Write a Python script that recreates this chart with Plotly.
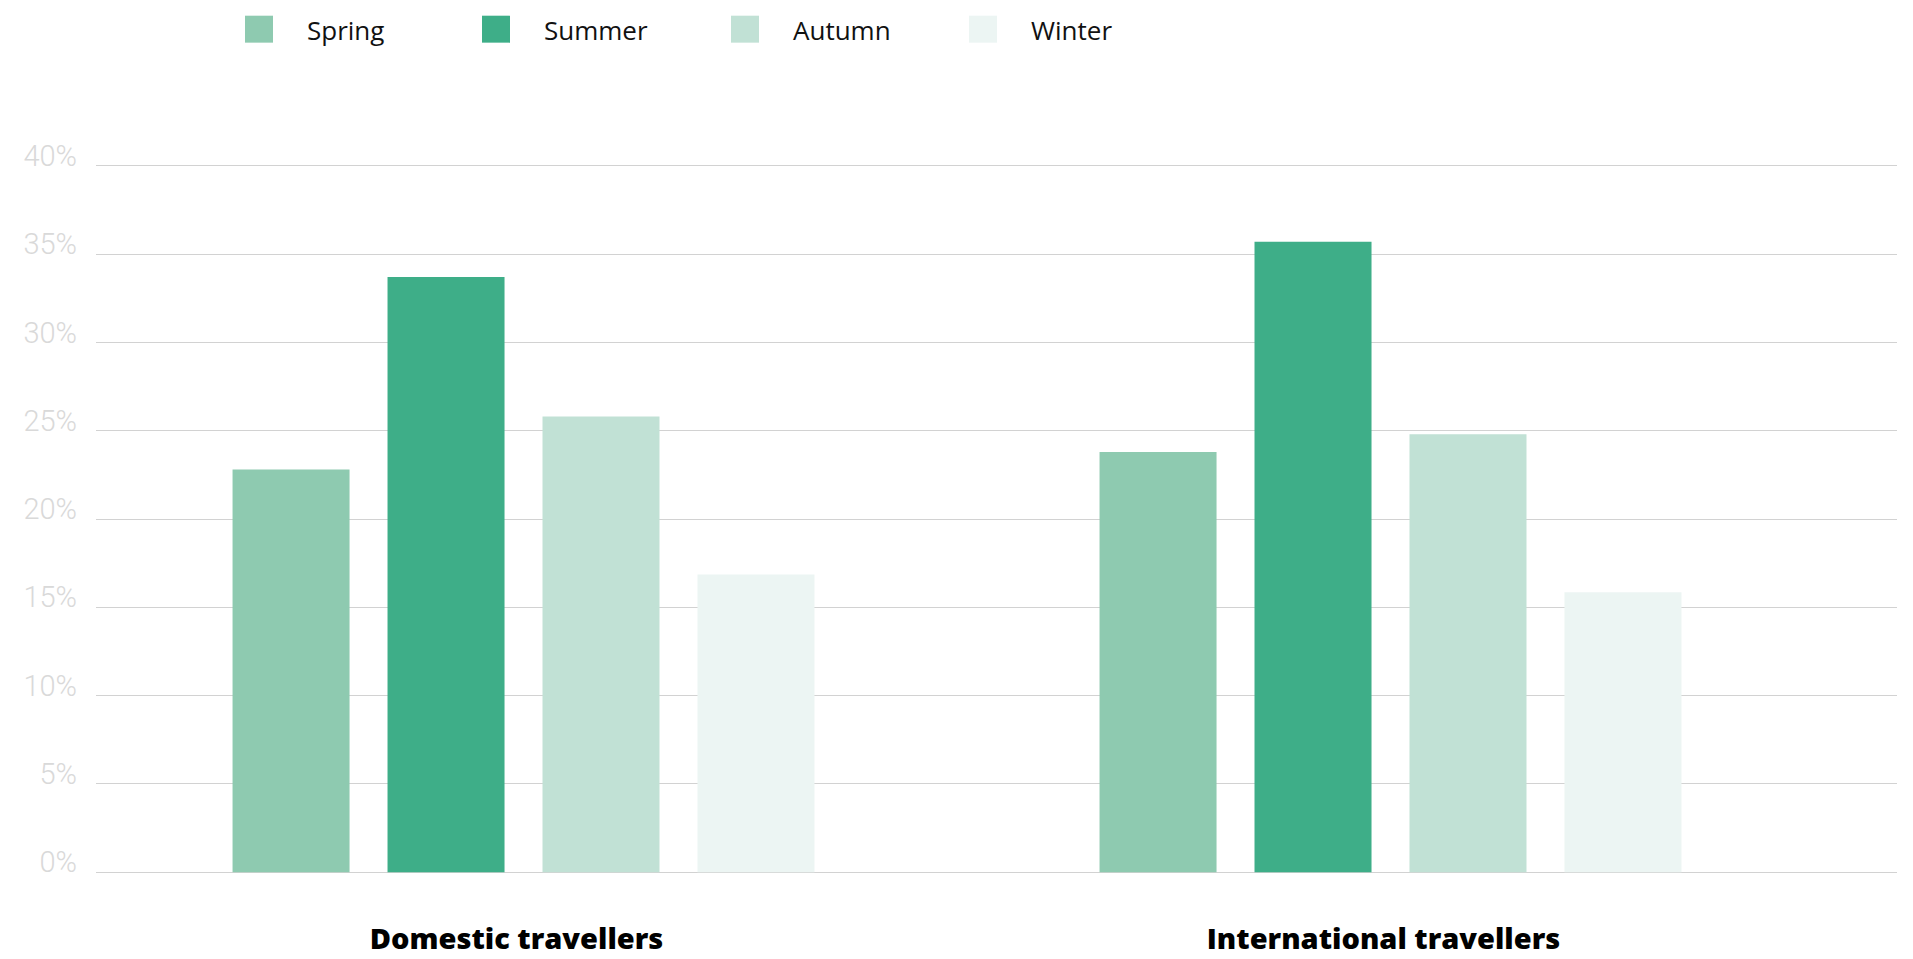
import plotly.graph_objects as go

# ---- data ----
categories = ["Domestic travellers", "International travellers"]
seasons = ["Spring", "Summer", "Autumn", "Winter"]
spring = [22.8, 23.8]
summer = [33.7, 35.7]
autumn = [25.8, 24.8]
winter = [16.85, 15.85]
y_ticks = [0, 5, 10, 15, 20, 25, 30, 35, 40]
y_tick_labels = ["0%", "5%", "10%", "15%", "20%", "25%", "30%", "35%", "40%"]

colors = ["#8ECAB0", "#3EAE88", "#C1E1D5", "#ECF5F3"]
series = [spring, summer, autumn, winter]

W, H = 1913, 959
ML, MR, MT, MB = 96, 16, 156.5, 77.5
PW = W - ML - MR
PH = H - MT - MB

def px_x(x):
    return (x - ML) / PW

def px_y(y):
    return (H - MB - y) / PH

xpos = list(range(len(categories)))

fig = go.Figure()
for name, vals, col in zip(seasons, series, colors):
    fig.add_trace(go.Bar(x=xpos, y=vals, name=name, marker=dict(color=col, line=dict(width=0)),
                         showlegend=False, hoverinfo="y+name"))

# custom legend (swatches + labels)
legend_left = [245, 482, 731, 969]
for name, col, lx in zip(seasons, colors, legend_left):
    fig.add_shape(type="rect", xref="paper", yref="paper",
                  x0=px_x(lx), x1=px_x(lx + 28), y0=px_y(42), y1=px_y(15),
                  fillcolor=col, line=dict(width=0), layer="above")
    fig.add_annotation(xref="paper", yref="paper", x=px_x(lx + 60), y=px_y(29),
                       text=name, showarrow=False, xanchor="left", yanchor="middle",
                       font=dict(family="Open Sans", size=26, color="#111111"))

fig.update_layout(
    width=W, height=H,
    margin=dict(l=ML, r=MR, t=MT, b=MB, pad=0, autoexpand=False),
    paper_bgcolor="white", plot_bgcolor="white",
    barmode="group", bargap=0.285, bargroupgap=0.245,
    showlegend=False,
)
fig.update_xaxes(
    range=[-0.4931, 1.5842], tickvals=xpos, ticktext=categories, automargin=False,
    showgrid=False, zeroline=False, showline=False, ticks="",
    tickfont=dict(family="Open Sans", size=29, color="#000000", weight=800),
    ticklabelstandoff=38, ticklabelshift=-7,
)
fig.update_yaxes(
    range=[-0.5, 40.5], tickvals=y_ticks, ticktext=y_tick_labels, automargin=False,
    showgrid=True, gridcolor="#d2d2d2", gridwidth=1,
    zeroline=True, zerolinecolor="#d2d2d2", zerolinewidth=1,
    showline=False, ticks="",
    tickfont=dict(family="Roboto", size=29, color="#d9d9d9", weight=300),
    ticklabelstandoff=18, ticklabelshift=-10,
)

fig.write_html("out.html")
